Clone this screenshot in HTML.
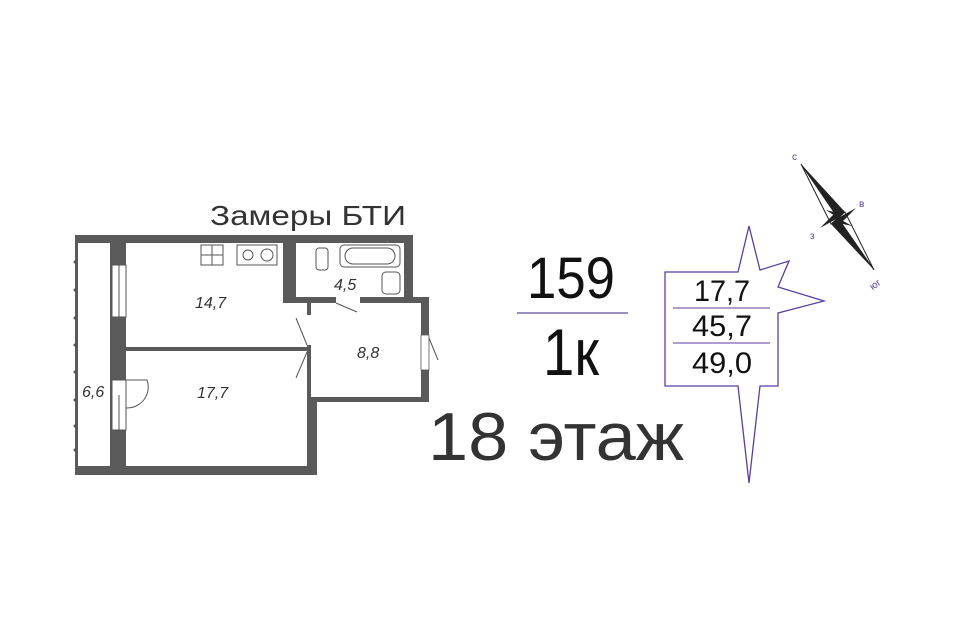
<!DOCTYPE html>
<html><head><meta charset="utf-8"><style>html,body{margin:0;padding:0;background:#fff}svg{display:block}</style></head>
<body>
<svg width="960" height="640" viewBox="0 0 960 640" xmlns="http://www.w3.org/2000/svg" font-family="'Liberation Sans', 'DejaVu Sans', sans-serif">
<rect width="960" height="640" fill="#fff"/>
<!-- floor plan -->
<path d="M75 235 H413 V297 H429 V402 H317 V475 H75 Z" fill="#5a5a5a"/>
<rect x="78" y="243" width="32" height="223" fill="#fff"/>
<rect x="126" y="243" width="181" height="104" fill="#fff"/>
<rect x="126" y="351" width="181" height="115" fill="#fff"/>
<rect x="296" y="243" width="108" height="54" fill="#fff"/>
<rect x="311" y="303" width="110" height="94" fill="#fff"/>
<rect x="283" y="243" width="13" height="60" fill="#5a5a5a"/>
<rect x="283" y="297" width="138" height="6" fill="#5a5a5a"/>
<!-- windows on left wall -->
<rect x="112" y="265" width="14" height="52" fill="#fff" stroke="#555" stroke-width="1"/>
<line x1="119" y1="265" x2="119" y2="317" stroke="#555"/>
<rect x="112" y="380" width="14" height="50" fill="#fff" stroke="#555" stroke-width="1"/>
<line x1="119" y1="395" x2="119" y2="430" stroke="#555"/>
<path d="M126 380 H147 A21 21 0 0 1 126 408" fill="none" stroke="#555"/>
<g fill="#555"><circle cx="75" cy="262" r="1.5"/><circle cx="75" cy="290" r="1.5"/><circle cx="75" cy="318" r="1.5"/><circle cx="75" cy="345" r="1.5"/><circle cx="75" cy="372" r="1.5"/><circle cx="75" cy="400" r="1.5"/><circle cx="75" cy="426" r="1.5"/><circle cx="75" cy="450" r="1.5"/></g>
<!-- doors -->
<rect x="307" y="315" width="4" height="30" fill="#fff"/>
<path d="M307 345 L296 318 M307 352 L296 378" stroke="#555" fill="none"/>
<rect x="336" y="297" width="24" height="6" fill="#fff"/>
<path d="M336 303 L357 312" stroke="#555"/>
<rect x="421" y="335" width="8" height="35" fill="#fff" stroke="#555" stroke-width="0.8"/>
<path d="M429 338 L438 360" stroke="#555"/>
<!-- fixtures -->
<g fill="none" stroke="#555" stroke-width="1">
<rect x="201" y="245" width="22" height="20"/><line x1="212" y1="245" x2="212" y2="265"/><line x1="201" y1="255" x2="223" y2="255"/>
<rect x="237" y="245" width="40" height="20"/>
<circle cx="248" cy="255" r="5"/><circle cx="267" cy="255" r="6"/>
<rect x="340" y="245" width="60" height="22" rx="4"/><rect x="345" y="248" width="50" height="16" rx="8"/>
<rect x="316" y="248" width="12" height="22" rx="3"/>
<rect x="382" y="272" width="18" height="22" rx="4"/>
</g>
<g font-style="italic" font-size="16" fill="#333">
<text x="195" y="308">14,7</text><text x="197" y="398">17,7</text><text x="357" y="358">8,8</text><text x="334" y="290">4,5</text><text x="82" y="397">6,6</text>
</g>
<text x="210" y="225" font-size="28" fill="#333" textLength="196" lengthAdjust="spacingAndGlyphs">Замеры БТИ</text>
<!-- center -->
<text x="527" y="298" font-size="58" fill="#111" textLength="88" lengthAdjust="spacingAndGlyphs">159</text>
<line x1="517" y1="313" x2="628" y2="313" stroke="#7a68b0" stroke-width="1.5"/>
<text x="543" y="375" font-size="66" fill="#111" textLength="56" lengthAdjust="spacingAndGlyphs">1к</text>
<text x="428" y="460" font-size="68" fill="#333" textLength="256" lengthAdjust="spacingAndGlyphs">18 этаж</text>
<!-- star box -->
<path d="M738 272 L749 226 L760 270 L789 261 L778 287 L824 301 L778 313 L778 386 L760 386 L749 483 L738 386 L665 386 L665 272 Z" fill="#fff" stroke="#5a3fa0" stroke-width="1.3"/>
<line x1="673" y1="308" x2="770" y2="308" stroke="#5a3fa0"/>
<line x1="673" y1="343" x2="770" y2="343" stroke="#5a3fa0"/>
<g font-size="30" fill="#111" text-anchor="middle">
<text x="722" y="301" textLength="56" lengthAdjust="spacingAndGlyphs">17,7</text>
<text x="722" y="336" textLength="60" lengthAdjust="spacingAndGlyphs">45,7</text>
<text x="722" y="373" textLength="60" lengthAdjust="spacingAndGlyphs">49,0</text>
</g>
<!-- compass -->
<path d="M801 164 L845 212 L838 218 Z" fill="#222"/><path d="M801 164 L831 224 L838 218 Z" fill="#fff" stroke="#222"/>
<path d="M874 270 L831 224 L838 218 Z" fill="#222"/><path d="M874 270 L845 212 L838 218 Z" fill="#fff" stroke="#222"/>
<path d="M838 218 L820 228 L834 214 Z M838 218 L856 208 L842 222 Z M838 218 L826 210 L842 214 Z M838 218 L852 226 L834 222 Z" fill="#222"/>
<g font-size="10" fill="#5a3fa0"><text x="792" y="160">с</text><text x="859" y="207">в</text><text x="810" y="239">з</text><text x="868" y="288" transform="rotate(-35 874 282)">юг</text></g>
</svg>
</body></html>
